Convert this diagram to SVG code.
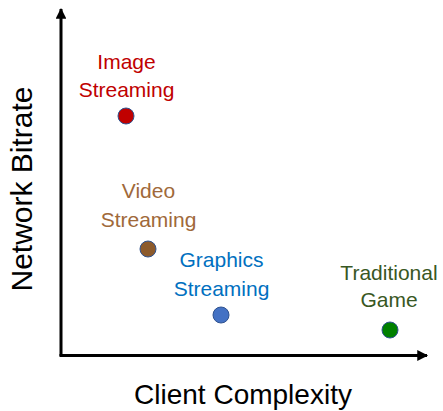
<svg xmlns="http://www.w3.org/2000/svg" width="443" height="411" viewBox="0 0 443 411">
<style>
text{font-family:"Liberation Sans",Arial,sans-serif;text-anchor:middle}
.lbl{font-size:21px}
.ax{font-size:28px;fill:#000}
.dot{stroke:#2F528F;stroke-width:1}
.axis{stroke:#000;stroke-width:3;fill:none}
</style>
<defs>
<marker id="ah" viewBox="0 0 10 10" refX="9" refY="5" markerWidth="4" markerHeight="3.6" orient="auto" markerUnits="strokeWidth">
<path d="M0,0 L10,5 L0,10 z" fill="#000"/>
</marker>
</defs>
<g id="connectors">
<path class="axis" d="M61,356 L61,9" marker-end="url(#ah)"/>
<path class="axis" d="M59.5,355.5 L427,355.5" marker-end="url(#ah)"/>
</g>
<g id="axis-x"><text class="ax" x="243" y="404">Client Complexity</text></g>
<g id="axis-y"><text class="ax" transform="translate(32,189) rotate(-90)" style="font-size:30px">Network Bitrate</text></g>
<g id="image-streaming">
<text class="lbl" x="126.5" y="69" fill="#C00000">Image</text>
<text class="lbl" x="126.5" y="97" fill="#C00000">Streaming</text>
<circle class="dot" cx="126" cy="116" r="8" fill="#C00000"/>
</g>
<g id="video-streaming">
<text class="lbl" x="148.5" y="198" fill="#A0693A">Video</text>
<text class="lbl" x="148.5" y="227" fill="#A0693A">Streaming</text>
<circle class="dot" cx="148" cy="249" r="8" fill="#8C5A2B"/>
</g>
<g id="graphics-streaming">
<text class="lbl" x="221.5" y="267" fill="#0070C0">Graphics</text>
<text class="lbl" x="221.5" y="296" fill="#0070C0">Streaming</text>
<circle class="dot" cx="221" cy="315" r="8" fill="#4472C4"/>
</g>
<g id="traditional-game">
<text class="lbl" x="389" y="280" fill="#385723">Traditional</text>
<text class="lbl" x="389" y="307" fill="#385723">Game</text>
<circle class="dot" cx="390" cy="330" r="8" fill="#008000"/>
</g>
</svg>
